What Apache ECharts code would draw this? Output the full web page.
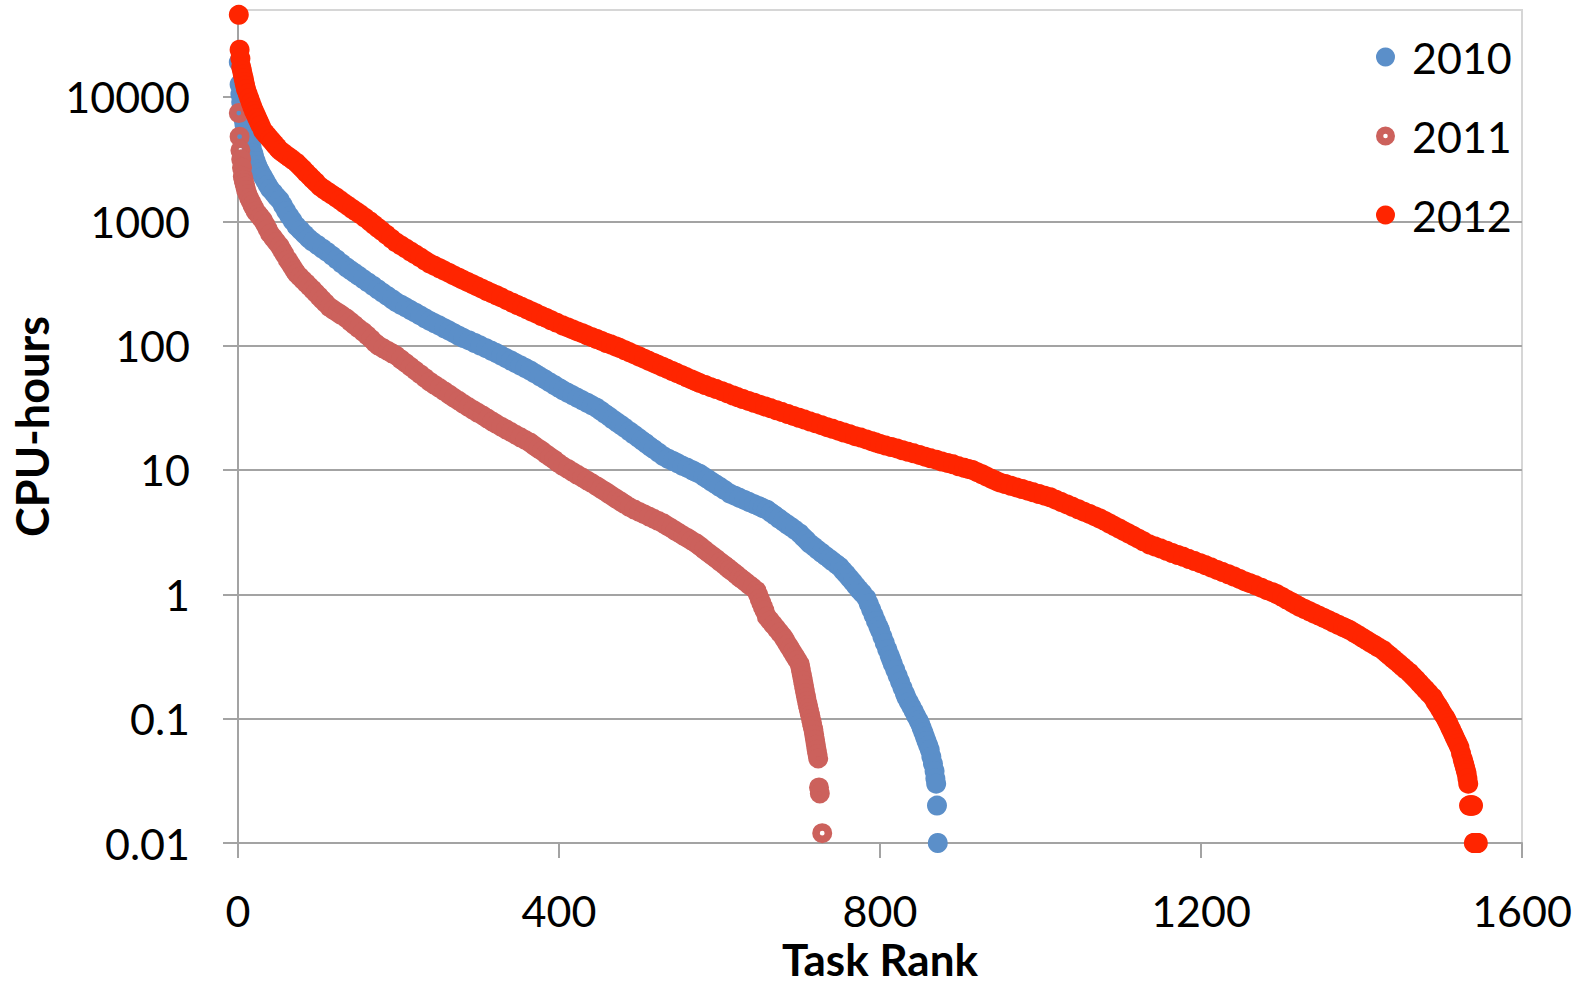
<!DOCTYPE html>
<html>
<head>
<meta charset="utf-8">
<script src="https://cdn.jsdelivr.net/npm/echarts@6/dist/echarts.min.js"></script>
<style>
html,body{margin:0;padding:0;background:#fff;}
#chart{width:1583px;height:985px;}
</style>
</head>
<body>
<div id="chart"></div>
<script>
// ---- data ----
const seriesNames = ['2010', '2011', '2012'];
const xTickValues = [0, 400, 800, 1200, 1600];
const yTickValues = [0.01, 0.1, 1, 10, 100, 1000, 10000];
const yTickLabels = ['0.01', '0.1', '1', '10', '100', '1000', '10000'];
const xTitle = 'Task Rank';
const yTitle = 'CPU-hours';

// [task rank, CPU-hours]
const data2010 = [[1,19000],[2,12600],[3,10500],[4,9120],[5,7940],[6,7240],[7,6610],[8,6030],[9,5660],[10,5330],[11,5010],[13,4730],[15,4470],[17,3960],[19,3520],[20,3310],[22,3050],[24,2810],[26,2620],[28,2480],[31,2290],[34,2120],[37,1960],[40,1820],[44,1700],[48,1580],[52,1480],[56,1340],[60,1210],[64,1100],[68,1010],[73,912],[78,847],[83,785],[88,729],[93,685],[99,644],[105,604],[111,567],[117,530],[123,493],[129,458],[135,427],[140,405],[145,385],[150,365],[156,343],[162,322],[168,303],[174,284],[180,267],[186,251],[192,236],[197,224],[203,213],[209,203],[215,193],[221,184],[227,175],[233,166],[239,158],[245,151],[251,145],[257,138],[263,132],[269,126],[275,120],[281,115],[288,110],[295,105],[302,100],[309,95.3],[316,90.8],[322,87.1],[328,83.2],[334,79.4],[340,75.9],[346,72.4],[352,69.2],[358,66.1],[364,63.1],[370,59.8],[376,56.6],[382,53.7],[388,50.8],[394,48.2],[400,45.7],[405,43.7],[411,41.7],[417,39.8],[423,38],[429,36.3],[435,34.7],[441,33.1],[447,31.6],[452,30],[457,28.4],[462,27],[467,25.5],[472,24.2],[477,23],[482,21.8],[488,20.4],[493,19.3],[498,18.3],[503,17.3],[508,16.4],[513,15.5],[518,14.7],[524,13.8],[530,12.9],[536,12.3],[542,11.8],[548,11.3],[554,10.8],[560,10.4],[566,9.95],[570,9.65],[575,9.33],[580,8.89],[585,8.47],[590,8.07],[595,7.69],[600,7.33],[606,6.92],[613,6.46],[619,6.21],[625,5.97],[631,5.74],[637,5.52],[643,5.31],[649,5.11],[654,4.94],[659,4.79],[664,4.54],[669,4.31],[674,4.07],[679,3.86],[684,3.66],[689,3.48],[694,3.3],[700,3.09],[704,2.9],[708,2.74],[712,2.57],[717,2.43],[722,2.29],[727,2.16],[732,2.04],[737,1.93],[741,1.84],[746,1.74],[750,1.66],[754,1.55],[758,1.45],[762,1.35],[766,1.26],[770,1.17],[774,1.09],[778,1.02],[783,0.933],[786,0.84],[789,0.755],[792,0.679],[795,0.611],[798,0.551],[800,0.513],[803,0.456],[806,0.406],[809,0.361],[812,0.322],[814,0.298],[816,0.275],[819,0.247],[822,0.221],[825,0.198],[828,0.177],[831,0.159],[833,0.148],[836,0.136],[839,0.125],[842,0.115],[845,0.105],[848,0.0966],[850,0.0912],[852,0.0841],[854,0.0776],[856,0.0716],[858,0.0661],[860,0.061],[862,0.0562],[864,0.0493],[866,0.0434],[868,0.038],[869,0.033],[870,0.03],[871,0.02],[872,0.01]];

const data2011 = [[1,7410],[2,4790],[3,3720],[4,3160],[5,2690],[6,2290],[7,2150],[8,2020],[9,1900],[10,1780],[12,1650],[14,1530],[16,1440],[18,1350],[20,1280],[22,1200],[25,1140],[28,1080],[31,1020],[34,940],[37,865],[40,794],[44,736],[48,681],[52,631],[55,585],[58,542],[62,490],[65,457],[68,427],[71,398],[73,380],[77,358],[81,337],[85,318],[89,299],[93,282],[97,265],[101,249],[105,234],[109,220],[114,204],[119,194],[124,185],[129,176],[135,166],[140,156],[145,147],[150,138],[156,129],[161,121],[166,113],[171,105],[175,100],[181,95.1],[187,90.4],[192,86.7],[197,83.2],[203,77.6],[209,72.4],[215,67.6],[221,63.1],[227,58.9],[233,55],[239,51.3],[245,48.3],[251,45.6],[257,43],[263,40.5],[269,38.1],[275,36],[281,33.9],[287,32.1],[293,30.4],[299,28.8],[305,27.4],[311,25.9],[317,24.5],[322,23.4],[328,22.3],[334,21.2],[340,20.2],[346,19.2],[352,18.3],[358,17.4],[364,16.6],[369,15.7],[374,14.9],[379,14.2],[384,13.4],[389,12.7],[394,12.1],[399,11.4],[405,10.7],[411,10.2],[417,9.64],[423,9.14],[429,8.69],[435,8.24],[441,7.82],[447,7.41],[452,7.06],[457,6.75],[462,6.43],[467,6.12],[472,5.83],[477,5.57],[482,5.31],[488,5.01],[494,4.8],[500,4.6],[506,4.41],[512,4.23],[518,4.05],[524,3.88],[530,3.72],[535,3.55],[540,3.4],[545,3.24],[550,3.1],[555,2.96],[560,2.84],[565,2.71],[571,2.57],[576,2.43],[581,2.29],[586,2.16],[591,2.04],[596,1.93],[601,1.82],[606,1.72],[610,1.64],[613,1.58],[617,1.51],[621,1.44],[625,1.37],[629,1.31],[633,1.25],[637,1.19],[641,1.14],[646,1.07],[648,0.995],[650,0.923],[652,0.857],[654,0.796],[656,0.74],[659,0.661],[663,0.614],[667,0.57],[671,0.53],[675,0.492],[679,0.457],[682,0.426],[685,0.395],[688,0.368],[691,0.342],[694,0.318],[697,0.296],[700,0.275],[701,0.255],[702,0.236],[703,0.218],[704,0.202],[705,0.187],[706,0.173],[707,0.16],[708,0.148],[709,0.138],[710,0.129],[711,0.121],[712,0.113],[713,0.106],[714,0.0993],[715,0.0929],[716,0.0869],[717,0.0813],[718,0.0741],[719,0.0676],[720,0.0617],[721,0.0562],[722,0.0519],[723,0.0479],[724,0.028],[725,0.025],[728,0.012]];

const data2012 = [[1,45700],[2,24000],[3,20400],[4,17400],[5,16200],[6,15100],[7,14100],[8,13200],[9,12300],[10,11500],[12,10600],[14,9750],[16,8980],[18,8280],[20,7690],[22,7210],[24,6750],[26,6320],[28,5930],[31,5370],[34,5090],[37,4830],[40,4580],[43,4350],[46,4130],[49,3920],[52,3720],[56,3560],[60,3400],[64,3260],[68,3120],[73,2950],[77,2780],[81,2620],[85,2460],[89,2320],[93,2180],[97,2060],[102,1910],[107,1810],[112,1720],[117,1640],[122,1560],[127,1480],[132,1400],[137,1330],[142,1260],[147,1200],[152,1140],[158,1070],[164,1000],[169,942],[174,887],[179,837],[185,780],[191,726],[197,676],[203,639],[209,605],[215,571],[221,541],[227,512],[233,483],[239,457],[245,438],[251,419],[257,401],[263,384],[269,367],[275,352],[280,339],[286,325],[292,312],[298,299],[304,287],[310,275],[316,264],[322,254],[328,244],[335,232],[342,221],[348,212],[354,204],[360,196],[366,188],[372,181],[378,173],[384,167],[390,160],[397,153],[405,145],[411,140],[417,135],[423,130],[429,126],[435,121],[441,117],[447,113],[453,109],[459,105],[465,102],[471,98.4],[476,95.5],[482,91.8],[488,88.3],[494,84.9],[500,81.7],[506,78.5],[512,75.5],[518,72.6],[523,70.3],[529,67.6],[535,65],[541,62.5],[547,60.1],[553,57.8],[559,55.6],[565,53.5],[570,51.8],[575,50.1],[582,48.2],[589,46.3],[596,44.7],[603,43],[610,41.3],[617,39.7],[623,38.4],[629,37.2],[636,35.9],[643,34.7],[650,33.5],[657,32.4],[664,31.3],[671,30.2],[678,29.2],[685,28.2],[692,27.2],[699,26.3],[706,25.4],[713,24.5],[720,23.7],[727,22.9],[734,22.1],[741,21.4],[748,20.7],[755,20],[762,19.4],[769,18.7],[776,18.2],[783,17.6],[790,17],[795,16.6],[800,16.2],[807,15.7],[814,15.3],[821,14.9],[828,14.4],[835,14],[842,13.6],[849,13.2],[856,12.8],[863,12.4],[870,12.1],[877,11.7],[884,11.4],[891,11.1],[898,10.7],[905,10.4],[910,10.2],[915,10],[921,9.6],[927,9.23],[933,8.85],[939,8.49],[944,8.22],[949,7.94],[956,7.71],[963,7.46],[970,7.24],[977,7.03],[984,6.82],[991,6.61],[998,6.41],[1005,6.21],[1012,6.03],[1019,5.77],[1026,5.52],[1033,5.28],[1040,5.05],[1047,4.83],[1054,4.62],[1061,4.43],[1068,4.23],[1074,4.07],[1080,3.89],[1086,3.71],[1092,3.54],[1098,3.38],[1104,3.22],[1110,3.08],[1116,2.94],[1122,2.8],[1128,2.67],[1136,2.51],[1143,2.42],[1150,2.33],[1157,2.24],[1164,2.15],[1171,2.07],[1178,2],[1185,1.92],[1192,1.85],[1199,1.78],[1206,1.71],[1213,1.64],[1220,1.57],[1227,1.51],[1234,1.45],[1241,1.39],[1248,1.33],[1255,1.27],[1261,1.23],[1268,1.18],[1275,1.13],[1282,1.08],[1289,1.04],[1295,1],[1301,0.953],[1307,0.906],[1313,0.863],[1318,0.828],[1323,0.794],[1329,0.762],[1335,0.731],[1341,0.701],[1347,0.673],[1353,0.646],[1359,0.619],[1365,0.593],[1371,0.569],[1377,0.546],[1382,0.528],[1386,0.513],[1391,0.49],[1396,0.469],[1401,0.448],[1406,0.428],[1411,0.409],[1416,0.392],[1421,0.374],[1427,0.355],[1431,0.337],[1435,0.321],[1439,0.305],[1443,0.29],[1447,0.276],[1451,0.262],[1455,0.249],[1460,0.234],[1464,0.22],[1468,0.207],[1472,0.194],[1476,0.182],[1480,0.171],[1484,0.16],[1489,0.148],[1492,0.137],[1495,0.128],[1498,0.119],[1501,0.11],[1504,0.103],[1506,0.0977],[1508,0.0918],[1510,0.0861],[1512,0.0809],[1514,0.0759],[1516,0.0713],[1518,0.0668],[1520,0.0628],[1522,0.0589],[1524,0.0528],[1526,0.0475],[1527,0.045],[1528,0.0427],[1529,0.0405],[1530,0.0383],[1531,0.0363],[1532,0.033],[1533,0.03],[1534,0.02],[1535,0.02],[1536,0.02],[1537,0.02],[1538,0.02],[1539,0.02],[1540,0.01],[1541,0.01],[1542,0.01],[1543,0.01],[1544,0.01],[1545,0.01]];

// ---- styling ----
const FONT = 'Lato';
const axisGray = '#a3a3a3';
const ringPath = 'path://M0,-10A10,10,0,1,1,0,10A10,10,0,1,1,0,-10ZM0,-2.4A2.4,2.4,0,1,0,0,2.4A2.4,2.4,0,1,0,0,-2.4Z';

const chart = echarts.init(document.getElementById('chart'), null, {renderer: 'svg'});

const option = {
  backgroundColor: '#ffffff',
  animation: false,
  grid: {
    left: 238, right: 61, top: 10, bottom: 142,
    outerBoundsMode: 'none', containLabel: false,
    show: true, borderColor: '#d6d6d6', borderWidth: 2, backgroundColor: 'transparent'
  },
  legend: {
    orient: 'vertical',
    left: 1376, top: 35, padding: 0,
    itemWidth: 19, itemHeight: 19, itemGap: 35,
    textStyle: {fontFamily: FONT, fontSize: 43, color: '#000', lineHeight: 44, padding: [0, 0, 0, 12]},
    data: seriesNames
  },
  xAxis: {
    type: 'value', min: xTickValues[0], max: xTickValues[xTickValues.length - 1],
    interval: xTickValues[1] - xTickValues[0],
    axisLine: {show: true, onZero: false, lineStyle: {color: axisGray, width: 2}},
    axisTick: {show: true, inside: false, length: 15, lineStyle: {color: axisGray, width: 2}},
    axisLabel: {fontFamily: FONT, fontSize: 43, color: '#000', margin: 46,
      formatter: function (v) { return String(v); }},
    splitLine: {show: false},
    name: xTitle, nameLocation: 'middle', nameGap: 94,
    nameTextStyle: {fontFamily: FONT, fontSize: 44, lineHeight: 44, fontWeight: 'bold', color: '#000'}
  },
  yAxis: {
    type: 'log', logBase: 10, min: 0.01, max: 50000,
    axisLine: {show: true, onZero: false, lineStyle: {color: axisGray, width: 2}},
    axisTick: {show: true, inside: false, length: 15, lineStyle: {color: axisGray, width: 2}, customValues: yTickValues},
    axisLabel: {
      customValues: yTickValues,
      fontFamily: FONT, fontSize: 43, color: '#000', margin: 48, padding: [14, 0, 0, 0],
      formatter: function (v) {
        const i = Math.round(Math.log10(v)) + 2;
        return yTickLabels[i] !== undefined ? yTickLabels[i] : '';
      }
    },
    splitLine: {show: true, showMaxLine: false, lineStyle: {color: axisGray, width: 2}},
    name: yTitle, nameLocation: 'middle', nameRotate: 90, nameGap: 177,
    nameTextStyle: {fontFamily: FONT, fontSize: 45, fontWeight: 'bold', color: '#000'}
  },
  series: [
    {
      name: seriesNames[0], type: 'scatter', data: data2010,
      symbol: 'circle', symbolSize: 20, silent: true,
      itemStyle: {color: '#5b8fc9', opacity: 1}
    },
    {
      name: seriesNames[1], type: 'scatter', data: data2011,
      symbol: ringPath, symbolSize: 20, silent: true,
      itemStyle: {color: '#cc615c', opacity: 1}
    },
    {
      name: seriesNames[2], type: 'scatter', data: data2012,
      symbol: 'circle', symbolSize: 20, silent: true,
      itemStyle: {color: '#ff2500', opacity: 1}
    }
  ]
};
chart.setOption(option);
</script>
</body>
</html>
